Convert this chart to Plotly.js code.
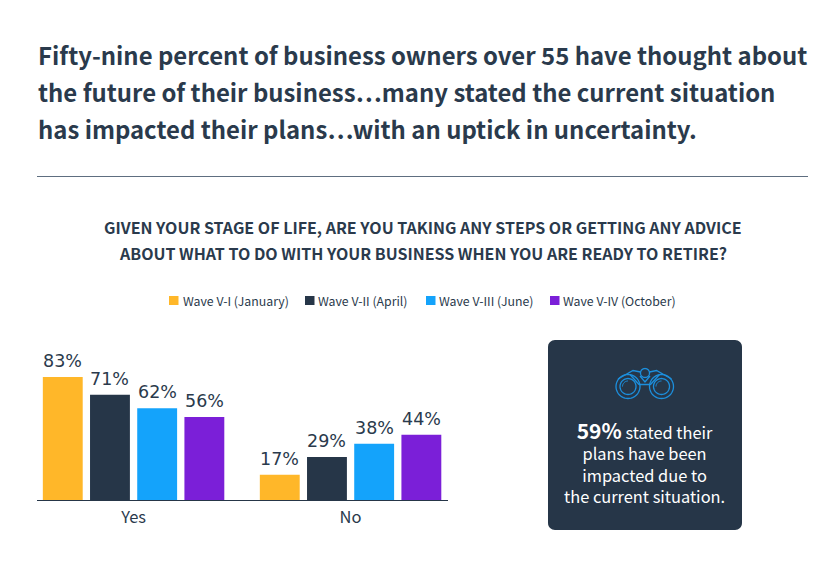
<!DOCTYPE html>
<html><head><meta charset="utf-8">
<script src="https://cdn.plot.ly/plotly-3.0.1.min.js"></script>
<style>html,body{margin:0;padding:0;background:#fff}#c{width:833px;height:571px}</style>
</head><body><div id="c"></div>
<script>
const categories = ["Yes", "No"];
const waveNames = ["Wave V-I (January)", "Wave V-II (April)", "Wave V-III (June)", "Wave V-IV (October)"];
const waveI = [83, 17];
const waveII = [71, 29];
const waveIII = [62, 38];
const waveIV = [56, 44];
const waveColors = ["#FFB729", "#263648", "#14A3FB", "#7B1FD8"];
const headline = ["Fifty-nine percent of business owners over 55 have thought about",
  "the future of their business…many stated the current situation",
  "has impacted their plans…with an uptick in uncertainty."];
const question = ["GIVEN YOUR STAGE OF LIFE, ARE YOU TAKING ANY STEPS OR GETTING ANY ADVICE",
  "ABOUT WHAT TO DO WITH YOUR BUSINESS WHEN YOU ARE READY TO RETIRE?"];
const cardLines = ['<span style="font-size:21px;font-weight:700">59%</span> stated their', "plans have been", "impacted due to", "the current situation."];
const legendSwatchX = [169, 305, 426, 550];
const legendTextX = [183, 318, 439, 563];

const W = 833, H = 571;
const FONT = '"Noto Sans CJK SC","Noto Sans",sans-serif';
const INK = "#2A3A4C";
const px = x => x / W, py = y => 1 - y / H;
const P = (x, y) => px(x).toFixed(5) + "," + py(y).toFixed(5);
function circle(cx, cy, r) {
  const n = 48; let d = "";
  for (let i = 0; i <= n; i++) { const a = i / n * 2 * Math.PI;
    d += (i ? "L" : "M") + P(cx + r * Math.cos(a), cy + r * Math.sin(a)); }
  return d + "Z";
}
function arcPath(cx, cy, r, a0, a1) {
  const n = 12; let d = "";
  for (let i = 0; i <= n; i++) { const a = a0 + (a1 - a0) * i / n;
    d += (i ? "L" : "M") + P(cx + r * Math.cos(a), cy + r * Math.sin(a)); }
  return d;
}
function roundRect(x0, y0, x1, y1, r) {
  const n = 8; let d = "";
  const arc = (cx, cy, s) => { for (let i = 0; i <= n; i++) { const a = s + i / n * Math.PI / 2;
    d += (d ? "L" : "M") + P(cx + r * Math.cos(a), cy + r * Math.sin(a)); } };
  arc(x1 - r, y0 + r, -Math.PI / 2); arc(x1 - r, y1 - r, 0); arc(x0 + r, y1 - r, Math.PI / 2); arc(x0 + r, y0 + r, Math.PI);
  return d + "Z";
}
const values = [waveI, waveII, waveIII, waveIV];
const traces = values.map((v, i) => ({
  type: "bar", name: waveNames[i], x: categories, y: v,
  marker: {color: waveColors[i]}, cliponaxis: false,
  hoverinfo: "skip", showlegend: false
}));
const ann = [];
const lab = (t, x, y, size, weight, color, anchor) => ann.push({
  text: t, xref: "paper", yref: "paper", x: px(x), y: py(y), xanchor: anchor, yanchor: "middle",
  showarrow: false, font: {family: FONT, size, weight, color}, borderpad: 0
});
headline.forEach((t, i) => lab(t, 36.5, 55 + i * 36.5, 23.9, 600, INK, "left"));
question.forEach((t, i) => lab(t, 422.5, 227 + i * 25.5, 16, 600, INK, "center"));
lab(cardLines.join("<br>"), 644.7, 461.5, 16.4, 400, "#FFFFFF", "center");
waveNames.forEach((t, i) => lab(t, legendTextX[i] - 1.5, 300.5, 12.3, 400, INK, "left"));
values.forEach((v, i) => v.forEach((n, c) => ann.push({
  text: n + "%", xref: "x", yref: "y", x: c, y: n, xanchor: "center", yanchor: "middle",
  xshift: (i - 1.5) * 47.3, yshift: 16, showarrow: false, borderpad: 0,
  font: {family: '"DejaVu Sans",sans-serif', size: 17.5, color: INK}
})));

const blue = "#1C8FDD";
const iconLine = {color: blue, width: 1.3};
const shapes = [
  {type: "line", xref: "paper", yref: "paper", x0: px(37), x1: px(808), y0: py(176.5), y1: py(176.5), line: {color: "#5E6E80", width: 1}},
  {type: "path", xref: "paper", yref: "paper", path: roundRect(548, 340, 742, 530, 7), fillcolor: "#263648", line: {width: 0}},
  ...[[628, 386.5, 12], [628, 386.5, 8], [661.5, 386.5, 12], [661.5, 386.5, 8], [645, 373, 4.5]].map(c => ({
    type: "path", xref: "paper", yref: "paper", path: circle(c[0], c[1], c[2]), line: iconLine})),
  {type: "path", xref: "paper", yref: "paper", line: {color: blue, width: 1},
   path: arcPath(628, 386.5, 5.5, Math.PI, 1.5 * Math.PI) + arcPath(661.5, 386.5, 5.5, Math.PI, 1.5 * Math.PI)},
  {type: "path", xref: "paper", yref: "paper", line: iconLine,
   path: "M" + P(618, 379) + "L" + P(633, 370.5) + "L" + P(640.5, 372) + "M" + P(671.5, 379) + "L" + P(656.5, 370.5) + "L" + P(649.5, 372)
       + "M" + P(630, 374.5) + "L" + P(639, 384.5) + "M" + P(659.5, 374.5) + "L" + P(650.5, 384.5)
       + "M" + P(640, 376) + "L" + P(645, 382) + "L" + P(650, 376) + "M" + P(639, 384.5) + "L" + P(650.5, 384.5)},
  ...legendSwatchX.map((x, i) => ({type: "rect", xref: "paper", yref: "paper", x0: px(x), x1: px(x + 9.5), y0: py(296), y1: py(305), fillcolor: waveColors[i], line: {width: 0}})),
  {type: "line", xref: "paper", yref: "paper", x0: px(37), x1: px(448), y0: py(500.5), y1: py(500.5), line: {color: "#263648", width: 1}}
];
const layout = {
  width: W, height: H, margin: {l: 0, r: 0, t: 0, b: 0}, paper_bgcolor: "#fff", plot_bgcolor: "#fff",
  showlegend: false, barmode: "group", bargap: 0.13, bargroupgap: 0.155,
  font: {family: FONT, color: INK},
  xaxis: {domain: [px(37), px(448)], range: [-0.445, 1.449], type: "category", categoryorder: "array", categoryarray: categories,
    showgrid: false, zeroline: false, showline: false, ticks: "", tickfont: {family: FONT, size: 16.5, color: INK}, ticklen: 0, ticklabelstandoff: 5},
  yaxis: {domain: [py(500), py(340)], range: [0, 108], visible: false, showgrid: false, zeroline: false},
  annotations: ann, shapes
};
Plotly.newPlot("c", traces, layout, {displayModeBar: false, staticPlot: true});
</script></body></html>
